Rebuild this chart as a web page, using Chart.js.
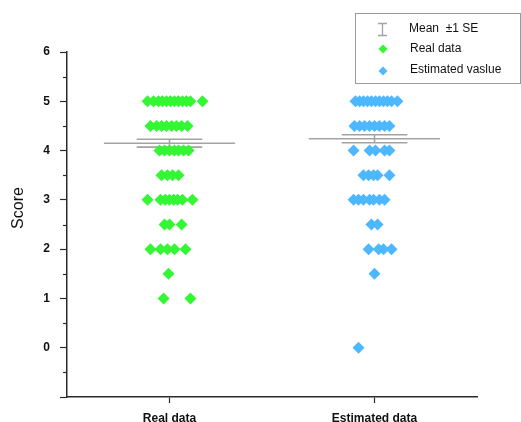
<!DOCTYPE html>
<html>
<head>
<meta charset="utf-8">
<script src="https://cdn.jsdelivr.net/npm/chart.js@4/dist/chart.umd.min.js"></script>
<style>
  html, body { margin: 0; padding: 0; background: #ffffff; }
  #wrap { width: 521px; height: 422px; }
</style>
</head>
<body>
<div id="wrap"><canvas id="c" width="521" height="422"></canvas></div>
<script>
// Group names on the x axis
const categories = ['Real data', 'Estimated data'];
const legendLabels = ['Mean  \u00B11 SE', 'Real data', 'Estimated vaslue'];
const yTickValues = [-1, 0, 1, 2, 3, 4, 5, 6];

// Individual scores and their horizontal jitter (in x-axis units)
const realScores = [
  5, 5, 5, 5, 5, 5, 5, 5, 5, 5, 5, 5,
  4.5, 4.5, 4.5, 4.5, 4.5, 4.5, 4.5, 4.5,
  4, 4, 4, 4, 4, 4, 4,
  3.5, 3.5, 3.5, 3.5,
  3, 3, 3, 3, 3, 3, 3, 3,
  2.5, 2.5, 2.5,
  2, 2, 2, 2, 2,
  1.5,
  1, 1
];
const realJitter = [
  -0.107, -0.078, -0.054, -0.034, -0.015, 0.005, 0.024, 0.044, 0.063, 0.083, 0.102, 0.161,
  -0.093, -0.063, -0.039, -0.015, 0.010, 0.034, 0.059, 0.088,
  -0.049, -0.024, 0, 0.024, 0.044, 0.068, 0.093,
  -0.039, -0.010, 0.015, 0.044,
  -0.107, -0.044, -0.020, 0, 0.020, 0.039, 0.063, 0.112,
  -0.024, 0, 0.059,
  -0.093, -0.044, -0.010, 0.024, 0.078,
  -0.005,
  -0.029, 0.102
];
const estScores = [
  5, 5, 5, 5, 5, 5, 5, 5, 5, 5, 5,
  4.5, 4.5, 4.5, 4.5, 4.5, 4.5, 4.5, 4.5,
  4, 4, 4, 4, 4,
  3.5, 3.5, 3.5, 3.5, 3.5,
  3, 3, 3, 3, 3, 3, 3,
  2.5, 2.5,
  2, 2, 2, 2,
  1.5,
  0
];
const estJitter = [
  -0.093, -0.073, -0.054, -0.034, -0.015, 0.005, 0.024, 0.044, 0.063, 0.083, 0.112,
  -0.098, -0.073, -0.049, -0.024, 0, 0.024, 0.049, 0.073,
  -0.102, -0.024, 0.005, 0.049, 0.073,
  -0.054, -0.029, -0.005, 0.015, 0.073,
  -0.102, -0.078, -0.054, -0.024, -0.005, 0.024, 0.049,
  -0.015, 0.015,
  -0.029, 0.020, 0.044, 0.083,
  0,
  -0.078
];

// Group means and standard errors
const means = [4.15, 4.24];
const stdErrs = [0.08, 0.08];

const GREEN = '#33f733';
const BLUE = '#4db8ff';
const GREY = '#a3a3a3';
const AXIS = '#2b2b2b';
const FONT = "'Liberation Sans', Arial, sans-serif";
const MEAN_HALF = 0.32;
const SE_HALF = 0.16;

function points(scores, jitter, center) {
  return scores.map((s, i) => ({ x: center + jitter[i], y: s }));
}

function segment(x1, y1, x2, y2) {
  return {
    type: 'line',
    data: [{ x: x1, y: y1 }, { x: x2, y: y2 }],
    borderColor: GREY,
    borderWidth: 1.6,
    pointRadius: 0,
    fill: false,
    order: 2
  };
}

const meanDatasets = [];
means.forEach((m, i) => {
  const c = i + 1;
  const hi = m + stdErrs[i];
  const lo = m - stdErrs[i];
  meanDatasets.push(segment(c - MEAN_HALF, m, c + MEAN_HALF, m));
  meanDatasets.push(segment(c - SE_HALF, hi, c + SE_HALF, hi));
  meanDatasets.push(segment(c - SE_HALF, lo, c + SE_HALF, lo));
  meanDatasets.push(segment(c, lo, c, hi));
});

// Short minor ticks at half units and the rotated axis title
const extrasPlugin = {
  id: 'extras',
  afterDraw(chart) {
    const ctx = chart.ctx;
    const ys = chart.scales.y;
    const left = chart.chartArea.left;
    ctx.save();
    ctx.strokeStyle = AXIS;
    ctx.lineWidth = 1.2;
    for (let v = -0.5; v < 6; v += 1) {
      const py = Math.round(ys.getPixelForValue(v)) + 0.5;
      ctx.beginPath();
      ctx.moveTo(left - 4, py);
      ctx.lineTo(left, py);
      ctx.stroke();
    }
    ctx.fillStyle = '#111';
    ctx.font = '16px ' + FONT;
    ctx.translate(19, 208);
    ctx.rotate(-Math.PI / 2);
    ctx.textAlign = 'center';
    ctx.textBaseline = 'middle';
    ctx.fillText('Score', 0, 0);
    ctx.restore();
  }
};

// Boxed legend in the top-right corner
const legendPlugin = {
  id: 'boxLegend',
  afterDraw(chart) {
    const ctx = chart.ctx;
    ctx.save();
    ctx.strokeStyle = '#9a9a9a';
    ctx.lineWidth = 1;
    ctx.strokeRect(355.5, 13.5, 165, 70);

    // mean ± SE symbol
    ctx.strokeStyle = GREY;
    ctx.lineWidth = 1.3;
    ctx.beginPath();
    ctx.moveTo(378, 23.5); ctx.lineTo(387, 23.5);
    ctx.moveTo(378, 35.5); ctx.lineTo(387, 35.5);
    ctx.moveTo(382.5, 23.5); ctx.lineTo(382.5, 35.5);
    ctx.stroke();

    const diamond = (cx, cy, r, color) => {
      ctx.fillStyle = color;
      ctx.beginPath();
      ctx.moveTo(cx, cy - r);
      ctx.lineTo(cx + r, cy);
      ctx.lineTo(cx, cy + r);
      ctx.lineTo(cx - r, cy);
      ctx.closePath();
      ctx.fill();
    };
    diamond(383, 49, 4.5, GREEN);
    diamond(383, 71, 4.5, BLUE);

    ctx.fillStyle = '#111';
    ctx.font = '12px ' + FONT;
    ctx.textAlign = 'left';
    ctx.textBaseline = 'middle';
    ctx.fillText(legendLabels[0], 409, 29);
    ctx.fillText(legendLabels[1], 410, 49);
    ctx.fillText(legendLabels[2], 410, 70);
    ctx.restore();
  }
};

new Chart(document.getElementById('c'), {
  type: 'scatter',
  data: {
    datasets: [
      {
        label: categories[0],
        data: points(realScores, realJitter, 1),
        pointStyle: 'rectRot',
        pointRadius: 6,
        pointBackgroundColor: GREEN,
        pointBorderWidth: 0,
        borderWidth: 0,
        order: 1
      },
      {
        label: categories[1],
        data: points(estScores, estJitter, 2),
        pointStyle: 'rectRot',
        pointRadius: 6,
        pointBackgroundColor: BLUE,
        pointBorderWidth: 0,
        borderWidth: 0,
        order: 1
      },
      ...meanDatasets
    ]
  },
  options: {
    responsive: false,
    animation: false,
    events: [],
    layout: { padding: { top: 52, right: 44, left: 0, bottom: 0 } },
    plugins: {
      legend: { display: false },
      tooltip: { enabled: false }
    },
    scales: {
      x: {
        type: 'linear',
        min: 0.5,
        max: 2.5,
        afterBuildTicks(scale) {
          scale.ticks = categories.map((_, i) => ({ value: i + 1 }));
        },
        afterFit(scale) { scale.height = 25; },
        ticks: {
          callback: v => categories[v - 1] || '',
          color: '#111',
          font: { family: FONT, size: 12, weight: 'bold' },
          padding: 8,
          maxRotation: 0
        },
        grid: {
          drawOnChartArea: false,
          tickLength: 6,
          tickColor: AXIS,
          tickWidth: 1.2
        },
        border: { color: AXIS, width: 1.5 }
      },
      y: {
        type: 'linear',
        min: -1,
        max: 6,
        afterBuildTicks(scale) {
          scale.ticks = yTickValues.map(v => ({ value: v }));
        },
        afterFit(scale) { scale.width = 67; },
        ticks: {
          callback: v => (v < 0 ? '' : String(v)),
          color: '#111',
          font: { family: FONT, size: 12, weight: 'bold' },
          padding: 10
        },
        grid: {
          drawOnChartArea: false,
          tickLength: 7,
          tickColor: AXIS,
          tickWidth: 1.2
        },
        border: { color: AXIS, width: 1.5 }
      }
    }
  },
  plugins: [extrasPlugin, legendPlugin]
});
</script>
</body>
</html>
